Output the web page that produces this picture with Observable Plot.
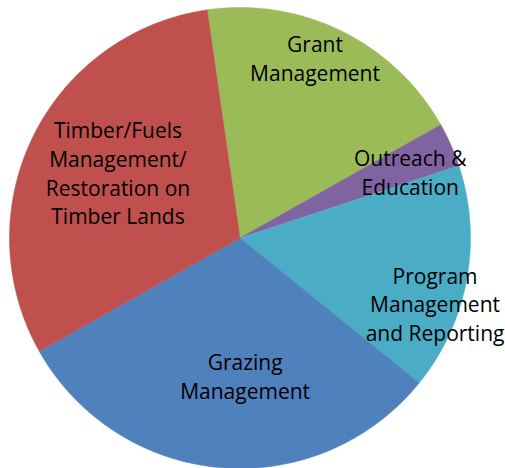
<!DOCTYPE html>
<html>
<head>
<meta charset="utf-8">
<script src="https://cdn.jsdelivr.net/npm/d3@7"></script>
<script src="https://cdn.jsdelivr.net/npm/@observablehq/plot@0.6"></script>
<style>
  html, body { margin: 0; padding: 0; background: #fff; }
  #chart svg { display: block; }
</style>
</head>
<body>
<div id="chart"></div>
<script>
// ---- data ----
const categories = [
  "Grant Management",
  "Outreach & Education",
  "Program Management and Reporting",
  "Grazing Management",
  "Timber/Fuels Management/ Restoration on Timber Lands"
];
const shares = [19.1, 3.1, 15.9, 31.0, 30.9];
const labelTexts = [
  "Grant\nManagement",
  "Outreach &\nEducation",
  "Program\nManagement\nand Reporting",
  "Grazing\nManagement",
  "Timber/Fuels\nManagement/\nRestoration on\nTimber Lands"
];
const colors = ["#9BBB59", "#8064A2", "#4BACC6", "#4F81BD", "#C0504D"];

// ---- layout (label placement in polar terms, degrees clockwise from north) ----
const startAngle = -8.2;
const labelAngle = [22.8, 69.2, 109.0, 177.9, 297.7];
const labelRadius = [0.84, 0.79, 0.895, 0.606, 0.598];

// build slice outlines from the cumulative shares
const total = d3.sum(shares);
const rad = Math.PI / 180;
const slicePts = [];
let acc = 0;
shares.forEach((v, i) => {
  const a0 = startAngle + acc / total * 360;
  acc += v;
  const a1 = startAngle + acc / total * 360;
  slicePts.push({cat: categories[i], x: 0, y: 0});
  const n = Math.max(2, Math.ceil((a1 - a0) / 0.5));
  for (let k = 0; k <= n; k++) {
    const a = (a0 + (a1 - a0) * k / n) * rad;
    slicePts.push({cat: categories[i], x: Math.sin(a), y: Math.cos(a)});
  }
  slicePts.push({cat: categories[i], x: 0, y: 0});
});

const labels = categories.map((c, i) => ({
  cat: c,
  text: labelTexts[i],
  x: labelRadius[i] * Math.sin(labelAngle[i] * rad),
  y: labelRadius[i] * Math.cos(labelAngle[i] * rad)
}));

const chart = Plot.plot({
  width: 505,
  height: 468,
  marginLeft: 9,
  marginRight: 35,
  marginTop: 7,
  marginBottom: 0,
  x: {domain: [-1, 1], axis: null},
  y: {domain: [-1, 1], axis: null},
  color: {domain: categories, range: colors},
  style: {fontFamily: "'Open Sans', sans-serif", background: "#fff", overflow: "visible"},
  marks: [
    Plot.line(slicePts, {x: "x", y: "y", z: "cat", fill: "cat", stroke: "cat", strokeWidth: 0.5, curve: "linear"}),
    Plot.text(labels, {x: "x", y: "y", text: "text", fontSize: 21, lineHeight: 1.37, dy: -2, fill: "#000", textAnchor: "middle"})
  ]
});
document.getElementById("chart").appendChild(chart);
</script>
</body>
</html>
